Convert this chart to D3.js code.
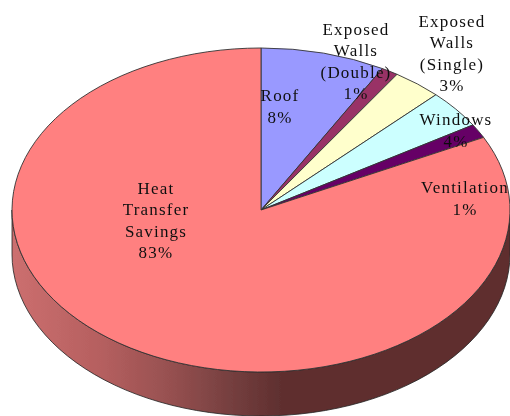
<!DOCTYPE html>
<html><head><meta charset="utf-8">
<script src="https://cdn.jsdelivr.net/npm/d3@7/dist/d3.min.js"></script>
<style>html,body{margin:0;padding:0;background:#fff;overflow:hidden}svg{display:block}
text{font-family:"Liberation Serif",serif;font-size:17px;letter-spacing:1.2px;fill:#111;text-anchor:middle}</style>
</head><body><svg id="c" width="510" height="416"></svg>
<script>
const categories = ["Roof","Exposed Walls (Double)","Exposed Walls (Single)","Windows","Ventilation","Heat Transfer Savings"];
const values = [8.1,1.1,3.2,3.8,1.4,82.4];
const colors = ["#9999ff","#993366","#ffffcc","#ccffff","#660066","#ff8080"];
const labelLines = [["Roof","8%"],["Exposed","Walls","(Double)","1%"],["Exposed","Walls","(Single)","3%"],["Windows","4%"],["Ventilation","1%"],["Heat","Transfer","Savings","83%"]];
const labelPos = [[280,107],[356,62],[452,54],[456,131],[465,199],[156,221]];
const wallStops = [[0,"#cc6f6f"],[0.18,"#b55f5f"],[0.32,"#965050"],[0.44,"#753f3f"],[0.54,"#5f2f2f"],[1,"#5f2f2f"]];

const W=510,H=416,cx=261,cy=210,rx=249,ry=162,depth=44;
const svg=d3.select("#c");
const defs=svg.append("defs");
const g=defs.append("linearGradient").attr("id","wall").attr("gradientUnits","userSpaceOnUse")
  .attr("x1",cx-rx).attr("x2",cx+rx).attr("y1",0).attr("y2",0);
wallStops.forEach(s=>g.append("stop").attr("offset",s[0]).attr("stop-color",s[1]));
defs.append("filter").attr("id","soft").attr("x","-5%").attr("y","-5%").attr("width","110%").attr("height","110%")
  .append("feGaussianBlur").attr("stdDeviation",0.45);

const root=svg.append("g").attr("filter","url(#soft)");
const p=d3.path();
const steps=d3.range(0,181,3);
const pt=(deg,dy)=>[cx-rx*Math.cos(deg*Math.PI/180),cy+dy+ry*Math.sin(deg*Math.PI/180)];
p.moveTo(cx-rx,cy);
steps.forEach(d=>{const q=pt(d,0);p.lineTo(q[0],q[1]);});
steps.slice().reverse().forEach(d=>{const q=pt(d,depth);p.lineTo(q[0],q[1]);});
p.closePath();
root.append("path").attr("d",p.toString()).attr("fill","url(#wall)").attr("stroke","#222").attr("stroke-width",0.8);

const pie=d3.pie().sort(null).value(d=>d)(values);
const arc=d3.arc().innerRadius(0).outerRadius(rx);
root.append("g").attr("transform",`translate(${cx},${cy}) scale(1,${ry/rx})`)
  .selectAll("path").data(pie).join("path")
  .attr("d",arc).attr("fill",(d,i)=>colors[i])
  .attr("stroke","#333").attr("stroke-width",0.9).attr("vector-effect","non-scaling-stroke");

const lh=21.5;
root.selectAll("text.l").data(labelLines).join("text").attr("class","l")
  .each(function(lines,i){
    const t=d3.select(this);
    lines.forEach((s,j)=>t.append("tspan").attr("x",labelPos[i][0]).attr("y",labelPos[i][1]-(lines.length-1)*lh/2+j*lh+5).text(s));
  });
</script></body></html>
